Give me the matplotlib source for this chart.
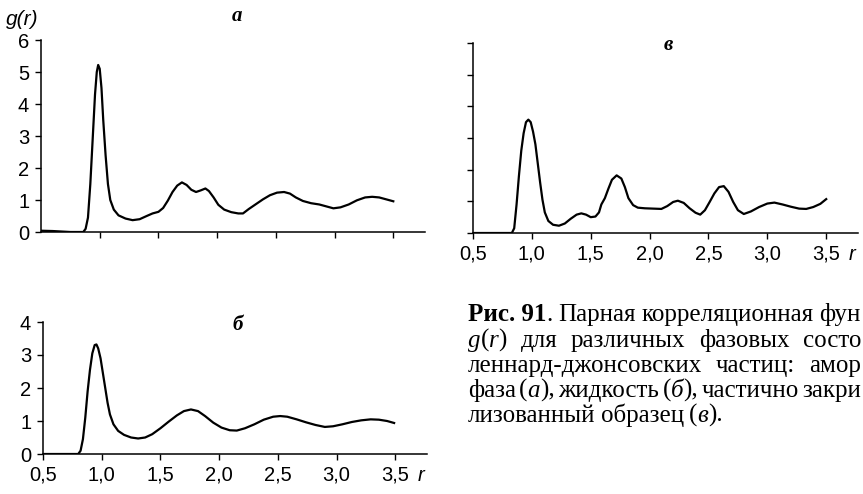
import matplotlib
matplotlib.use('Agg')
import matplotlib.pyplot as plt
from matplotlib.transforms import IdentityTransform

plt.rcParams['font.family'] = ['Liberation Sans', 'DejaVu Sans']

# Данные, считанные с рисунка
# a: аморфная фаза
r_a = [0.50, 0.60, 0.75, 0.86, 0.88, 0.90, 0.92, 0.94, 0.96, 0.975, 0.987, 1.0,
       1.015, 1.03, 1.05, 1.07, 1.09, 1.12, 1.16, 1.22, 1.28, 1.34, 1.40, 1.45,
       1.50, 1.54, 1.58, 1.62, 1.66, 1.70, 1.74, 1.78, 1.82, 1.86, 1.90, 1.93,
       1.97, 2.01, 2.06, 2.12, 2.18, 2.22, 2.27, 2.33, 2.39, 2.45, 2.51, 2.57,
       2.62, 2.67, 2.73, 2.80, 2.87, 2.93, 2.99, 3.05, 3.12, 3.19, 3.26, 3.32,
       3.38, 3.44, 3.50]
g_a = [0.04, 0.03, 0.0, 0.0, 0.1, 0.45, 1.5, 2.9, 4.3, 5.0, 5.22, 5.1,
       4.5, 3.5, 2.4, 1.5, 1.0, 0.7, 0.52, 0.42, 0.37, 0.4, 0.5, 0.58,
       0.63, 0.75, 0.98, 1.25, 1.45, 1.55, 1.47, 1.32, 1.25, 1.3, 1.36, 1.28,
       1.08, 0.85, 0.7, 0.62, 0.58, 0.58, 0.72, 0.87, 1.02, 1.15, 1.23, 1.25,
       1.2, 1.08, 0.97, 0.9, 0.86, 0.8, 0.74, 0.77, 0.86, 0.99, 1.08, 1.1,
       1.08, 1.02, 0.96]

# б: жидкость
r_b = [0.50, 0.80, 0.82, 0.84, 0.86, 0.88, 0.90, 0.92, 0.94, 0.955, 0.97, 0.99,
       1.01, 1.03, 1.05, 1.07, 1.10, 1.14, 1.19, 1.25, 1.31, 1.37, 1.43, 1.50,
       1.57, 1.64, 1.70, 1.76, 1.82, 1.88, 1.95, 2.02, 2.09, 2.15, 2.22, 2.30,
       2.38, 2.46, 2.52, 2.58, 2.66, 2.74, 2.82, 2.90, 2.97, 3.05, 3.13, 3.21,
       3.29, 3.36, 3.43, 3.49]
g_b = [0.0, 0.0, 0.1, 0.45, 1.1, 1.9, 2.55, 3.05, 3.3, 3.32, 3.2, 2.9,
       2.45, 2.0, 1.55, 1.2, 0.9, 0.7, 0.58, 0.5, 0.47, 0.5, 0.6, 0.78,
       0.98, 1.17, 1.3, 1.35, 1.3, 1.15, 0.95, 0.8, 0.72, 0.71, 0.78, 0.9,
       1.04, 1.13, 1.15, 1.13, 1.05, 0.96, 0.88, 0.82, 0.84, 0.9, 0.97, 1.02,
       1.05, 1.04, 1.0, 0.94]

# в: частично закристаллизованный образец
r_v = [0.50, 0.83, 0.85, 0.87, 0.89, 0.91, 0.93, 0.95, 0.97, 0.99, 1.01, 1.03,
       1.05, 1.07, 1.09, 1.11, 1.14, 1.18, 1.23, 1.28, 1.33, 1.38, 1.42, 1.46,
       1.50, 1.54, 1.57, 1.59, 1.62, 1.65, 1.68, 1.72, 1.76, 1.79, 1.82, 1.86,
       1.90, 1.96, 2.03, 2.10, 2.15, 2.20, 2.24, 2.29, 2.34, 2.39, 2.43, 2.47,
       2.51, 2.55, 2.59, 2.63, 2.67, 2.71, 2.75, 2.80, 2.86, 2.93, 3.00, 3.06,
       3.13, 3.20, 3.27, 3.33, 3.39, 3.45, 3.50]
g_v = [0.0, 0.0, 0.15, 0.9, 1.8, 2.6, 3.15, 3.5, 3.58, 3.5, 3.2, 2.8,
       2.2, 1.6, 1.05, 0.65, 0.38, 0.26, 0.23, 0.3, 0.45, 0.58, 0.62, 0.58,
       0.5, 0.52, 0.65, 0.9, 1.1, 1.4, 1.68, 1.82, 1.72, 1.45, 1.1, 0.88,
       0.8, 0.78, 0.77, 0.76, 0.85, 0.98, 1.02, 0.95, 0.78, 0.64, 0.58, 0.72,
       0.98, 1.25, 1.45, 1.48, 1.3, 0.98, 0.72, 0.6, 0.68, 0.82, 0.93, 0.96,
       0.9, 0.83, 0.77, 0.76, 0.82, 0.92, 1.07]

x_ticks = [0.5, 1.0, 1.5, 2.0, 2.5, 3.0, 3.5]
x_labels = ['0,5', '1,0', '1,5', '2,0', '2,5', '3,0', '3,5']

W, H = 863, 494
fig = plt.figure(figsize=(W / 100, H / 100), dpi=100)


def make_axes(left, top, right, bottom, ymax):
    # координаты в пикселях картинки (сверху вниз)
    ax = fig.add_axes([left / W, 1 - bottom / H, (right - left) / W, (bottom - top) / H])
    ax.set_xlim(0.5, 3.77)
    ax.set_ylim(0, ymax)
    for s in ['top', 'right']:
        ax.spines[s].set_visible(False)
    for s in ['left', 'bottom']:
        ax.spines[s].set_linewidth(1.1)
    ax.tick_params(direction='out', length=4.5, width=1.0, labelsize=14.5, pad=4)
    ax.set_yticks(range(ymax + 1))
    ax.set_xticks(x_ticks)
    return ax


ax_a = make_axes(41, 40, 425, 232, 6)
ax_b = make_axes(43, 322, 427, 454, 4)
ax_v = make_axes(473, 43, 858, 233, 6)

ax_a.plot(r_a, g_a, color='black', lw=1.6)
ax_b.plot(r_b, g_b, color='black', lw=1.6)
ax_v.plot(r_v, g_v, color='black', lw=1.6)

ax_a.set_xticks(x_ticks[1:])
ax_a.set_xticklabels([])
ax_v.set_yticklabels([])
ax_b.set_xticklabels(x_labels)
ax_v.set_xticklabels(x_labels)

for ax in [ax_b, ax_v]:
    ax.annotate('r', xy=(3.72, 0), xycoords=('data', 'axes fraction'),
                xytext=(0, -8.5), textcoords='offset points',
                ha='center', va='top', fontsize=14.5, style='italic')

fig.text(6 / W, 1 - 25 / H, 'g(r)', fontsize=15, style='italic', va='baseline')

lab = dict(family=['Liberation Serif', 'DejaVu Serif'], weight='bold', style='italic',
           fontsize=15, ha='center', va='baseline')
fig.text(237 / W, 1 - 21 / H, 'a', **lab)
fig.text(238 / W, 1 - 330 / H, 'б', **lab)
fig.text(668 / W, 1 - 50 / H, 'в', **lab)

# Подпись к рисунку (в оригинале строки обрезаны правым краем)
renderer = fig.canvas.get_renderer()
serif = ['Liberation Serif', 'DejaVu Serif']
cap_size = 18
N, I, B = 'normal', 'italic', 'bold'

lines = [
    [[('Рис. 91', B, N), ('.', N, N)], [('Парная', N, N)], [('корреляционная', N, N)],
     [('фун', N, N)]],
    [[('g', N, I), ('(', N, N), ('r', N, I), (')', N, N)], [('для', N, N)],
     [('различных', N, N)], [('фазовых', N, N)], [('состо', N, N)]],
    [[('леннард-джонсовских', N, N)], [('частиц:', N, N)], [('амор', N, N)]],
    [[('фаза', N, N)], [('(', N, N), ('a', N, I), ('),', N, N)], [('жидкость', N, N)],
     [('(', N, N), ('б', N, I), ('),', N, N)], [('частично', N, N)], [('закри', N, N)]],
    [[('лизованный', N, N)], [('образец', N, N)], [('(', N, N), ('в', N, I), (').', N, N)]],
]
baselines = [321, 347, 372, 397, 422]


def piece(x, y, text, weight, style):
    t = fig.text(x, H - y, text, transform=IdentityTransform(), family=serif,
                 fontsize=cap_size, weight=weight, style=style, va='baseline')
    return t.get_window_extent(renderer).width


def draw_line(words, y, x0=468, x1=861, justify=True):
    # сначала меряем слова, потом раскладываем по ширине колонки
    widths = []
    for w in words:
        total = 0
        for text, weight, style in w:
            t = fig.text(0, 0, text, family=serif, fontsize=cap_size, weight=weight, style=style)
            total += t.get_window_extent(renderer).width
            t.remove()
        widths.append(total)
    if justify:
        space = (x1 - x0 - sum(widths)) / (len(words) - 1)
    else:
        space = 5
    x = x0
    for w, wd in zip(words, widths):
        xx = x
        for text, weight, style in w:
            xx += piece(xx, y, text, weight, style)
        x += wd + space


for k, (words, y) in enumerate(zip(lines, baselines)):
    draw_line(words, y, justify=(k < 4))

fig.savefig('out.png', dpi=100)
